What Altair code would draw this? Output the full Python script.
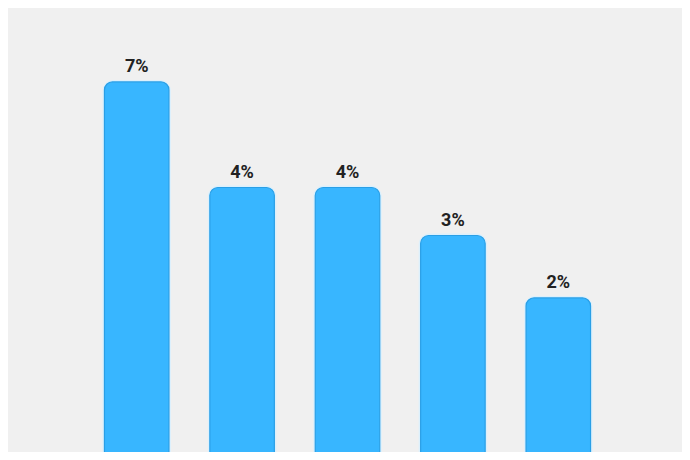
import altair as alt
import pandas as pd

# ---- data ----
categories = ["Item 1", "Item 2", "Item 3", "Item 4", "Item 5"]
shares = [0.066, 0.044, 0.044, 0.034, 0.021]
baseline = [-0.03, -0.03, -0.03, -0.03, -0.03]

df = pd.DataFrame({"category": categories, "share": shares, "base": baseline})

BG = "#f0f0f0"
FILL = "#38b6ff"
EDGE = "#2a9fe6"
HALO = "#dcf0fc"

x_enc = alt.X(
    "category:N",
    sort=None,
    axis=None,
    scale=alt.Scale(paddingInner=0.388, paddingOuter=0.8914, align=0.5133),
)
y_enc = alt.Y(
    "share:Q",
    axis=None,
    scale=alt.Scale(domain=[-0.0111, 0.0814], zero=False, nice=False),
)

base = alt.Chart(df).encode(x=x_enc, y=y_enc, y2=alt.Y2("base:Q"))

halo = base.mark_bar(
    fill=FILL,
    stroke=HALO,
    strokeWidth=4,
    cornerRadiusTopLeft=9,
    cornerRadiusTopRight=9,
    clip=False,
)
bars = base.mark_bar(
    fill=FILL,
    stroke=EDGE,
    strokeWidth=1.2,
    cornerRadiusTopLeft=8,
    cornerRadiusTopRight=8,
    clip=False,
)
labels = alt.Chart(df).mark_text(
    font="Roboto",
    fontSize=18,
    fontWeight="bold",
    color="#222222",
    baseline="alphabetic",
    align="center",
    dy=-10,
).encode(x=x_enc, y=y_enc, text=alt.Text("share:Q", format=".0%"))

chart = (
    alt.layer(halo, bars, labels)
    .properties(
        width=674,
        height=444,
        padding=0,
        autosize=alt.AutoSizeParams(type="none"),
        background=BG,
        usermeta={
            "embedOptions": {
                "defaultStyle": "html, body { background: #f0f0f0 !important; }"
            }
        },
    )
    .configure_view(stroke=None)
)

chart.save("out.html", embed_options={"renderer": "svg", "actions": False})
